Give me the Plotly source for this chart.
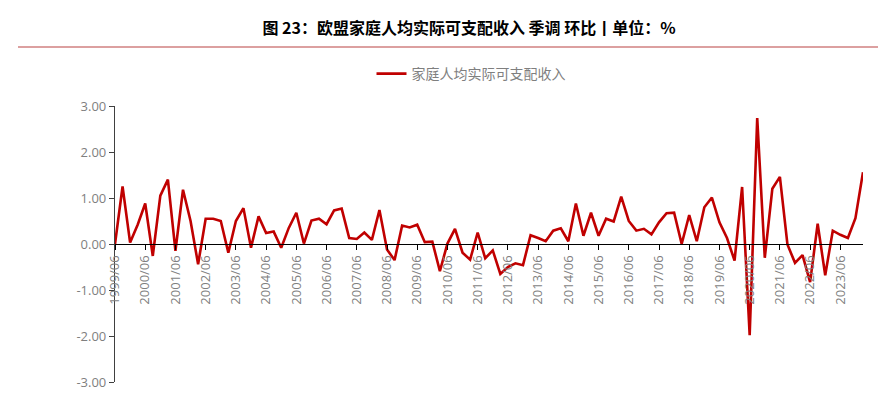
import plotly.graph_objects as go

# quarterly periods 1999/06 .. 2024/03
quarters = []
for y in range(1999, 2025):
    for m in ["03", "06", "09", "12"]:
        q = f"{y}/{m}"
        if "1999/06" <= q <= "2024/03":
            quarters.append(q)

values = [
    0.00, 1.25, 0.03, 0.42, 0.88, -0.26, 1.05, 1.40, -0.15, 1.18,
    0.50, -0.44, 0.55, 0.55, 0.50, -0.19, 0.50, 0.78, -0.08, 0.60,
    0.24, 0.27, -0.08, 0.35, 0.68, 0.01, 0.51, 0.55, 0.43, 0.73,
    0.77, 0.13, 0.11, 0.25, 0.09, 0.74, -0.12, -0.35, 0.40, 0.36,
    0.42, 0.04, 0.05, -0.59, 0.01, 0.33, -0.19, -0.34, 0.25, -0.31,
    -0.14, -0.65, -0.50, -0.42, -0.46, 0.19, 0.13, 0.06, 0.29, 0.34,
    0.06, 0.88, 0.18, 0.68, 0.18, 0.55, 0.49, 1.03, 0.50, 0.29,
    0.33, 0.21, 0.47, 0.67, 0.68, 0.00, 0.63, 0.06, 0.80, 1.01,
    0.47, 0.13, -0.36, 1.24, -1.98, 2.74, -0.30, 1.20, 1.46, -0.01,
    -0.41, -0.24, -0.83, 0.44, -0.68, 0.29, 0.20, 0.13, 0.56, 1.56,
]

tick_labels = [q for q in quarters if q.endswith("/06")]
y_ticks = [3, 2, 1, 0, -1, -2, -3]
y_tick_text = ["3.00", "2.00", "1.00", "0.00", "-1.00", "-2.00", "-3.00"]

series_name = "家庭人均实际可支配收入"
title_text = "图 23：欧盟家庭人均实际可支配收入 季调 环比丨单位：%"

# page has an 8px body margin; figure is sized to fit the window
OFF = 8
W, H = 886 - OFF, 393 - OFF
L, T = 115 - OFF, 106 - OFF
R, B = W - (863 - OFF), H - (382 - OFF)
PW, PH = W - L - R, H - T - B

fig = go.Figure()
fig.add_trace(go.Scatter(
    x=quarters, y=values, mode="lines", name=series_name,
    line=dict(color="#C00000", width=2.6),
    showlegend=True,
))

fig.update_layout(
    width=W, height=H,
    margin=dict(l=L, r=R, t=T, b=B, autoexpand=False),
    paper_bgcolor="white", plot_bgcolor="white",
    font=dict(family="Noto Sans CJK SC, sans-serif", color="#595959"),
    title=dict(
        text=title_text, x=(469 - OFF) / W, xanchor="center",
        y=1 - (28 - OFF) / H, yanchor="middle",
        font=dict(size=16, color="#000000", family="Noto Sans CJK SC, sans-serif", weight="bold"),
    ),
    legend=dict(
        orientation="h",
        x=(471 - OFF - L) / PW, xanchor="center",
        y=(H - B - (74 - OFF)) / PH, yanchor="middle",
        font=dict(size=14, color="#7f7f7f"),
        bgcolor="rgba(0,0,0,0)",
    ),
    xaxis=dict(
        type="category", range=[0, len(quarters) - 1],
        tickmode="array", tickvals=tick_labels, ticktext=tick_labels,
        tickangle=-90, ticks="outside", ticklen=5, tickcolor="#000000",
        showline=True, linecolor="#000000", linewidth=1.2,
        showgrid=False, zeroline=False, automargin=False,
        anchor="free", position=0.5,
        tickfont=dict(size=13, color="#7f7f7f", family="Open Sans, sans-serif"),
    ),
    yaxis=dict(
        range=[-3, 3], tickmode="array", tickvals=y_ticks, ticktext=y_tick_text,
        ticks="outside", ticklen=5, tickcolor="#404040",
        showline=True, linecolor="#404040", linewidth=1.2,
        showgrid=False, zeroline=False, automargin=False,
        tickfont=dict(size=13, color="#7f7f7f", family="Open Sans, sans-serif"),
    ),
)

fig.add_shape(type="line", xref="paper", yref="paper",
              x0=(18 - OFF - L) / PW, x1=(W - L) / PW,
              y0=(H - B - (47 - OFF)) / PH, y1=(H - B - (47 - OFF)) / PH,
              line=dict(color="#D08080", width=1.5))

fig.write_html("out.html")
